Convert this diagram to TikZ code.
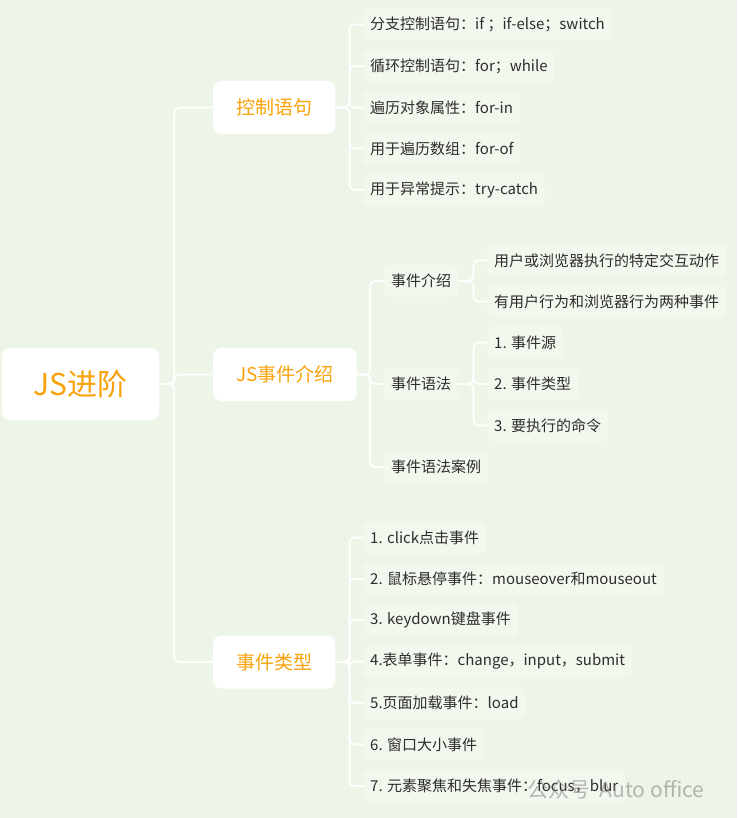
\documentclass[tikz,border=0pt]{standalone}
\usepackage{fontspec}
\setmainfont{Noto Sans CJK SC}
\definecolor{mapbg}{RGB}{237,245,232}
\definecolor{leafbg}{RGB}{243,248,239}
\definecolor{jsorange}{RGB}{250,162,10}
\definecolor{leaftext}{RGB}{45,45,45}

\begin{document}
\begin{tikzpicture}[x=1pt,y=-1pt,
  link/.style={draw=white,line width=1.8pt,rounded corners=5pt},
  rootbox/.style={fill=white,rounded corners=8pt,text=jsorange,font=\fontsize{30}{34}\selectfont,minimum width=157pt,minimum height=72pt},
  mainbox/.style={fill=white,rounded corners=8pt,text=jsorange,font=\fontsize{19}{22}\selectfont,inner xsep=23pt,minimum height=53pt,anchor=west},
  leaf/.style={fill=leafbg,rounded corners=6pt,text=leaftext,font=\fontsize{15}{18}\selectfont,inner xsep=7pt,minimum height=32pt,anchor=west}]
\fill[mapbg] (0,0) rectangle (737,818);

% root and main branches
\node[rootbox] (root) at (80.5,384) {JS进阶};
\node[mainbox] (ctrl) at (213,107.5) {控制语句};
\node[mainbox] (evt) at (213,374.5) {JS事件介绍};
\node[mainbox] (kind) at (213,662) {事件类型};

% control statements
\node[leaf] (c1) at (363,24.5) {分支控制语句：if ；if-else；switch};
\node[leaf] (c2) at (363,66) {循环控制语句：for；while};
\node[leaf] (c3) at (363,107.5) {遍历对象属性：for-in};
\node[leaf] (c4) at (363,148.5) {用于遍历数组：for-of};
\node[leaf] (c5) at (363,190) {用于异常提示：try-catch};

% events
\node[leaf] (e1) at (384,281) {事件介绍};
\node[leaf] (e2) at (384,384) {事件语法};
\node[leaf] (e3) at (384,467) {事件语法案例};
\node[leaf] (e11) at (487,260.5) {用户或浏览器执行的特定交互动作};
\node[leaf] (e12) at (487,301.5) {有用户行为和浏览器行为两种事件};
\node[leaf] (e21) at (487,342.5) {1. 事件源};
\node[leaf] (e22) at (487,384) {2. 事件类型};
\node[leaf] (e23) at (487,425.5) {3. 要执行的命令};

% event types
\node[leaf] (k1) at (363,537.5) {1. click点击事件};
\node[leaf] (k2) at (363,579) {2. 鼠标悬停事件：mouseover和mouseout};
\node[leaf] (k3) at (363,620) {3. keydown键盘事件};
\node[leaf] (k4) at (363,661.5) {4.表单事件：change，input，submit};
\node[leaf] (k5) at (363,703) {5.页面加载事件：load};
\node[leaf] (k6) at (363,744.5) {6. 窗口大小事件};
\node[leaf] (k7) at (363,786) {7. 元素聚焦和失焦事件：focus，blur};

% connectors
\foreach \c in {ctrl,evt,kind} \draw[link] (root.east) -- ++(15,0) |- (\c.west);
\foreach \c in {c1,c2,c3,c4,c5} \draw[link] (ctrl.east) -- ++(14,0) |- (\c.west);
\foreach \c in {e1,e2,e3} \draw[link] (evt.east) -- ++(13,0) |- (\c.west);
\foreach \c in {e11,e12} \draw[link] (e1.east) -- ++(15,0) |- (\c.west);
\foreach \c in {e21,e22,e23} \draw[link] (e2.east) -- ++(15,0) |- (\c.west);
\foreach \c in {k1,k2,k3,k4,k5,k6,k7} \draw[link] (kind.east) -- ++(14,0) |- (\c.west);

% watermark
\node[anchor=west,text=gray,opacity=0.55,font=\fontsize{21}{25}\selectfont] (mark) at (524,789) {公众号\ \ Auto office};
\end{tikzpicture}
\end{document}
